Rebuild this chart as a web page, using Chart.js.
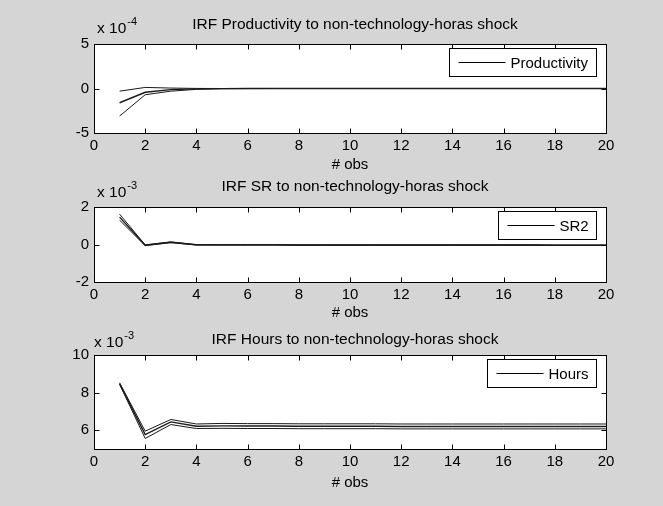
<!DOCTYPE html>
<html>
<head>
<meta charset="utf-8">
<script src="https://cdn.jsdelivr.net/npm/chart.js@4.4.0/dist/chart.umd.min.js"></script>
<style>
html, body { margin: 0; padding: 0; background: #d5d5d5; }
#wrap { position: relative; width: 663px; height: 506px; overflow: hidden; }
canvas { position: absolute; left: 0; }
</style>
</head>
<body>
<div id="wrap">
  <canvas id="c1" width="663" height="176" style="top:0px"></canvas>
  <canvas id="c2" width="663" height="154" style="top:176px"></canvas>
  <canvas id="c3" width="663" height="176" style="top:330px"></canvas>
</div>
<script>
// horizon (# obs) and its ticks
const obs = [1, 2, 3, 4, 5, 6, 7, 8, 9, 10, 11, 12, 13, 14, 15, 16, 17, 18, 19, 20];
const obsTicks = [0, 2, 4, 6, 8, 10, 12, 14, 16, 18, 20];

// productivity, in units of 1e-4
const prodLabel = 'Productivity';
const prodUpper = [-0.30, 0.12, 0.05, 0.01, 0.00, 0, 0, 0, 0, 0, 0, 0, 0, 0, 0, 0, 0, 0, 0, 0];
const prodMid   = [-1.60, -0.42, -0.13, -0.04, -0.01, 0, 0, 0, 0, 0, 0, 0, 0, 0, 0, 0, 0, 0, 0, 0];
const prodLower = [-3.10, -0.70, -0.30, -0.10, -0.03, -0.01, 0, 0, 0, 0, 0, 0, 0, 0, 0, 0, 0, 0, 0, 0];
const prodTicks = [-5, 0, 5];

// SR, in units of 1e-3
const srLabel = 'SR2';
const srUpper = [1.62, -0.02, 0.14, 0.00, -0.01, -0.01, -0.01, -0.02, -0.02, -0.02, -0.02, -0.02, -0.02, -0.02, -0.02, -0.02, -0.02, -0.03, -0.03, -0.03];
const srMid   = [1.46, -0.04, 0.12, -0.02, -0.02, -0.02, -0.02, -0.03, -0.03, -0.03, -0.03, -0.03, -0.03, -0.03, -0.03, -0.03, -0.03, -0.04, -0.04, -0.04];
const srLower = [1.30, -0.06, 0.10, -0.03, -0.03, -0.03, -0.03, -0.04, -0.04, -0.04, -0.04, -0.04, -0.04, -0.04, -0.04, -0.04, -0.04, -0.05, -0.05, -0.05];
const srTicks = [-2, 0, 2];

// hours, in units of 1e-3
const hoursLabel = 'Hours';
const hoursUpper = [8.52, 5.95, 6.57, 6.33, 6.36, 6.35, 6.35, 6.34, 6.34, 6.34, 6.34, 6.33, 6.33, 6.33, 6.33, 6.33, 6.33, 6.33, 6.33, 6.33];
const hoursMid   = [8.48, 5.77, 6.44, 6.21, 6.23, 6.22, 6.22, 6.21, 6.21, 6.21, 6.21, 6.20, 6.20, 6.20, 6.20, 6.20, 6.20, 6.20, 6.20, 6.20];
const hoursLower = [8.44, 5.56, 6.30, 6.09, 6.10, 6.09, 6.09, 6.08, 6.08, 6.08, 6.08, 6.07, 6.07, 6.07, 6.07, 6.07, 6.07, 6.07, 6.07, 6.07];
const hoursTicks = [6, 8, 10];

const FONT = '"Liberation Sans", Arial, sans-serif';

function pts(vals) {
    return obs.map((o, i) => ({ x: o, y: vals[i] }));
}

// white axes box, inward ticks, titles, exponent and boxed legend (matlab look)
const framePlugin = {
    id: 'frame',
    beforeDraw(chart) {
        const { ctx, chartArea: a } = chart;
        ctx.save();
        ctx.fillStyle = '#fff';
        ctx.fillRect(a.left, a.top, a.right - a.left, a.bottom - a.top);
        ctx.restore();
    },
    afterDatasetsDraw(chart, args, o) {
        const { ctx, chartArea: a, scales: { x, y } } = chart;
        const L = Math.round(a.left) + 0.5, R = Math.round(a.right) + 0.5;
        const T = Math.round(a.top) + 0.5, B = Math.round(a.bottom) + 0.5;
        ctx.save();
        ctx.strokeStyle = '#000';
        ctx.lineWidth = 1;
        ctx.beginPath();
        x.ticks.forEach(t => {
            const px = Math.round(x.getPixelForValue(t.value)) + 0.5;
            ctx.moveTo(px, B); ctx.lineTo(px, B - 5);
            ctx.moveTo(px, T); ctx.lineTo(px, T + 5);
        });
        y.ticks.forEach(t => {
            const py = Math.round(y.getPixelForValue(t.value)) + 0.5;
            ctx.moveTo(L, py); ctx.lineTo(L + 5, py);
            ctx.moveTo(R, py); ctx.lineTo(R - 5, py);
        });
        ctx.stroke();
        ctx.strokeRect(L, T, R - L, B - T);

        // title and x label
        ctx.fillStyle = '#000';
        ctx.font = '15.5px ' + FONT;
        ctx.textAlign = 'center';
        ctx.textBaseline = 'alphabetic';
        ctx.fillText(o.title, (a.left + a.right) / 2 + 5, a.top - o.titleGap);
        ctx.font = '15px ' + FONT;
        ctx.fillText('# obs', (a.left + a.right) / 2, a.bottom + o.xlabelGap);

        // exponent
        ctx.font = '15.5px ' + FONT;
        ctx.textAlign = 'left';
        ctx.fillText('x 10', a.left + o.expDx, a.top - o.expGap);
        const w = ctx.measureText('x 10').width;
        ctx.font = '11px ' + FONT;
        ctx.fillText(o.exp, a.left + o.expDx + w + 1, a.top - o.expGap - 8);

        // legend
        const label = chart.data.datasets[1].label;
        ctx.font = '15px ' + FONT;
        const tw = ctx.measureText(label).width;
        const bw = Math.round(9 + 47 + 5 + tw + 8), bh = 28;
        const bx = Math.round(a.right - 10 - bw) + 0.5, by = Math.round(a.top + 4) + 0.5;
        ctx.fillStyle = '#fff';
        ctx.fillRect(bx, by, bw, bh);
        ctx.strokeRect(bx, by, bw, bh);
        ctx.beginPath();
        ctx.moveTo(bx + 9, by + bh / 2);
        ctx.lineTo(bx + 56, by + bh / 2);
        ctx.stroke();
        ctx.fillStyle = '#000';
        ctx.textBaseline = 'middle';
        ctx.fillText(label, bx + 61, by + bh / 2 + 1);
        ctx.restore();
    }
};

function makePanel(id, p) {
    const line = (vals, label, width) => ({
        label: label,
        data: pts(vals),
        borderColor: '#1a1a1a',
        borderWidth: width,
        pointRadius: 0,
        tension: 0,
        fill: false
    });
    const canvas = document.getElementById(id);
    return new Chart(canvas.getContext('2d'), {
        type: 'line',
        data: {
            datasets: [
                line(p.upper, '', 1),
                line(p.mid, p.label, 1.4),
                line(p.lower, '', 1)
            ]
        },
        options: {
            responsive: false,
            animation: false,
            devicePixelRatio: 1,
            layout: { padding: { top: p.top, right: 57, left: 0, bottom: 0 } },
            plugins: {
                legend: { display: false },
                tooltip: { enabled: false },
                frame: {
                    title: p.title,
                    exp: p.exp,
                    titleGap: p.titleGap,
                    expGap: p.expGap,
                    expDx: p.expDx,
                    xlabelGap: p.xlabelGap
                }
            },
            scales: {
                x: {
                    type: 'linear',
                    min: 0,
                    max: 20,
                    grid: { display: false, drawTicks: false },
                    border: { display: false },
                    afterBuildTicks: s => { s.ticks = obsTicks.map(v => ({ value: v })); },
                    afterFit: s => { s.height = p.xh; },
                    ticks: { color: '#000', padding: 4, maxRotation: 0, font: { family: FONT, size: 15 } }
                },
                y: {
                    min: p.min,
                    max: p.max,
                    grid: { display: false, drawTicks: false },
                    border: { display: false },
                    afterBuildTicks: s => { s.ticks = p.ticks.map(v => ({ value: v })); },
                    afterFit: s => { s.width = 94; },
                    ticks: { color: '#000', padding: 5, font: { family: FONT, size: 15 } }
                }
            }
        },
        plugins: [framePlugin]
    });
}

makePanel('c1', {
    label: prodLabel, upper: prodUpper, mid: prodMid, lower: prodLower,
    ticks: prodTicks, min: -5, max: 5,
    title: 'IRF Productivity to non-technology-horas shock', exp: '-4',
    top: 44, xh: 43, titleGap: 15.5, expGap: 11, expDx: 3, xlabelGap: 36
});
makePanel('c2', {
    label: srLabel, upper: srUpper, mid: srMid, lower: srLower,
    ticks: srTicks, min: -2, max: 2,
    title: 'IRF SR to non-technology-horas shock', exp: '-3',
    top: 31, xh: 48, titleGap: 16, expGap: 10, expDx: 3, xlabelGap: 35
});
makePanel('c3', {
    label: hoursLabel, upper: hoursUpper, mid: hoursMid, lower: hoursLower,
    ticks: hoursTicks, min: 5, max: 10,
    title: 'IRF Hours to non-technology-horas shock', exp: '-3',
    top: 25, xh: 57, titleGap: 11, expGap: 8, expDx: 0, xlabelGap: 38
});
</script>
</body>
</html>
